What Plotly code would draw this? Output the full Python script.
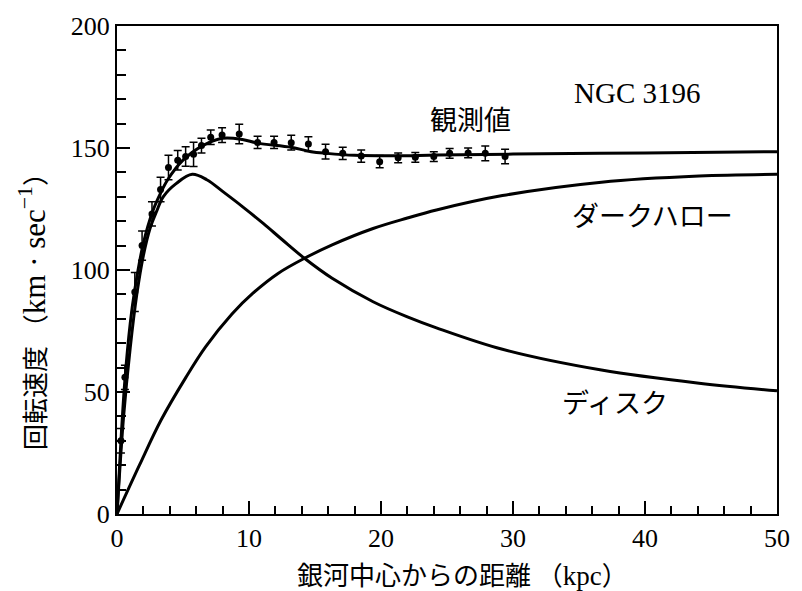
import plotly.graph_objects as go

# Observed rotation velocities (NGC 3196)
obs_r = [0.3, 0.6, 1.35, 1.9, 2.65, 3.3, 3.9, 4.6, 5.2, 5.8, 6.4, 7.1, 7.96, 9.26,
         10.65, 11.9, 13.2, 14.5, 15.8, 17.1, 18.5, 19.9, 21.3, 22.6, 24.0, 25.2,
         26.6, 27.9, 29.4]
obs_v = [30, 56, 91, 110, 123, 133, 142, 145, 146.5, 147.4, 151, 154.4, 155.3, 155.7,
         152.3, 152.3, 152.2, 151.6, 148.5, 147.8, 146.7, 144.4, 146.0, 146.2, 146.5, 147.8,
         148.0, 147.8, 146.5]
obs_err = [5, 5, 8, 6, 5, 5, 5, 4, 4, 5, 3, 3, 3, 4,
           2.5, 2.5, 3, 3, 3, 2.5, 2.5, 2.5, 2, 2, 2, 2,
           2, 3, 3]

# Fitted total curve
tot_r = [0, 0.3, 0.6, 1.0, 1.35, 2.0, 2.7, 3.3, 3.84, 5.0, 6.5, 8.0, 9.5, 10.65,
         13.2, 14.7, 15.9, 18.0, 21.0, 24.2, 30, 40, 50]
tot_v = [0, 30, 55, 78, 92, 111, 124, 131.5, 137, 145, 151, 154, 153.5, 152,
         150.3, 148.5, 147.8, 147, 146.8, 147.1, 147.5, 148, 148.5]

# Disk component
disk_r = [0, 0.5, 1.0, 1.5, 2.0, 2.5, 3.0, 3.5, 4.5, 5.7, 6.8, 8.1, 9.5, 11.1,
          12.5, 14.2, 16.3, 19.4, 22.0, 24.2, 29.2, 36.7, 44.1, 50]
disk_v = [0, 40, 68, 90, 106, 117, 124, 130, 135.5, 139.2, 137, 131.8, 126, 119,
          112.5, 104.8, 96.6, 87, 80.8, 76.3, 67.5, 59, 53.6, 50.5]

# Dark halo component
halo_r = [0, 1.7, 3.34, 5.22, 6.71, 8.71, 10.3, 12.2, 14.2, 16.3, 19.4, 22.0, 24.2,
          29.2, 36.7, 44.1, 50]
halo_v = [0, 20, 38.5, 56, 68.5, 82, 90.5, 98.6, 104.8, 110.3, 117, 121.3, 124.6,
          130.5, 136, 138.5, 139.2]

x_ticks = [0, 10, 20, 30, 40, 50]
y_ticks = [0, 50, 100, 150, 200]

SERIF = "Liberation Serif"
JP = "Noto Sans CJK JP"

fig = go.Figure()
line = dict(color="black", width=3, shape="spline", smoothing=1.0)
fig.add_trace(go.Scatter(x=halo_r, y=halo_v, mode="lines", line=line, hoverinfo="skip"))
fig.add_trace(go.Scatter(x=disk_r, y=disk_v, mode="lines", line=line, hoverinfo="skip"))
fig.add_trace(go.Scatter(x=tot_r, y=tot_v, mode="lines", line=line, hoverinfo="skip"))
fig.add_trace(go.Scatter(
    x=obs_r, y=obs_v, mode="markers",
    marker=dict(color="black", size=7, symbol="circle"),
    error_y=dict(type="data", array=obs_err, visible=True, color="black",
                 thickness=1.5, width=4),
))

tick_font = dict(family=SERIF, size=26, color="black")
fig.update_xaxes(
    range=[0, 50], tickmode="array", tickvals=x_ticks,
    ticktext=[str(v) for v in x_ticks], tickfont=tick_font,
    showgrid=False, zeroline=False, showline=True, linecolor="black", linewidth=2,
    mirror=True, ticks="inside", tickcolor="black", tickwidth=2, ticklen=13,
    minor=dict(dtick=2, ticks="inside", ticklen=8, tickwidth=1.5, tickcolor="black",
               showgrid=False),
)
fig.update_yaxes(
    range=[0, 200], tickmode="array", tickvals=y_ticks,
    ticktext=[str(v) for v in y_ticks], tickfont=tick_font,
    showgrid=False, zeroline=False, showline=True, linecolor="black", linewidth=2,
    mirror=True, ticks="inside", tickcolor="black", tickwidth=2, ticklen=13,
    minor=dict(dtick=10, ticks="inside", ticklen=9, tickwidth=1.5, tickcolor="black",
               showgrid=False),
)

SER = "<span style='font-family:Liberation Serif;font-size:27px'>{}</span>"
SER_Y = "<span style='font-family:Liberation Serif;font-size:31px'>{}</span>"
ann = [
    dict(text="NGC 3196", x=643, y=93, font=dict(family=SERIF, size=29)),
    dict(text="観測値", x=475, y=118, font=dict(family=JP, size=27)),
    dict(text="ダークハロー", x=659, y=214, font=dict(family=JP, size=27)),
    dict(text="ディスク", x=621, y=401, font=dict(family=JP, size=27)),
    dict(text="銀河中心からの距離 （" + SER.format("kpc") + "）",
         x=467, y=573, font=dict(family=JP, size=26)),
    dict(text="回転速度 （" + SER_Y.format("km · sec<sup>−1</sup>") + "）",
         x=31, y=305, textangle=-90, font=dict(family=JP, size=26)),
]
for a in ann:
    fig.add_annotation(
        text=a["text"], xref="paper", yref="paper",
        x=(a["x"] - 117) / (785 - 117), y=(514 - a["y"]) / (514 - 26),
        xanchor="center", yanchor="middle", showarrow=False,
        textangle=a.get("textangle", 0),
        font=dict(color="black", **a["font"]),
    )

fig.update_layout(
    width=802, height=591, showlegend=False,
    font=dict(family=SERIF, color="black"),
    margin=dict(l=117, r=17, t=26, b=77),
    plot_bgcolor="white", paper_bgcolor="white",
)
fig.write_html("out.html")
